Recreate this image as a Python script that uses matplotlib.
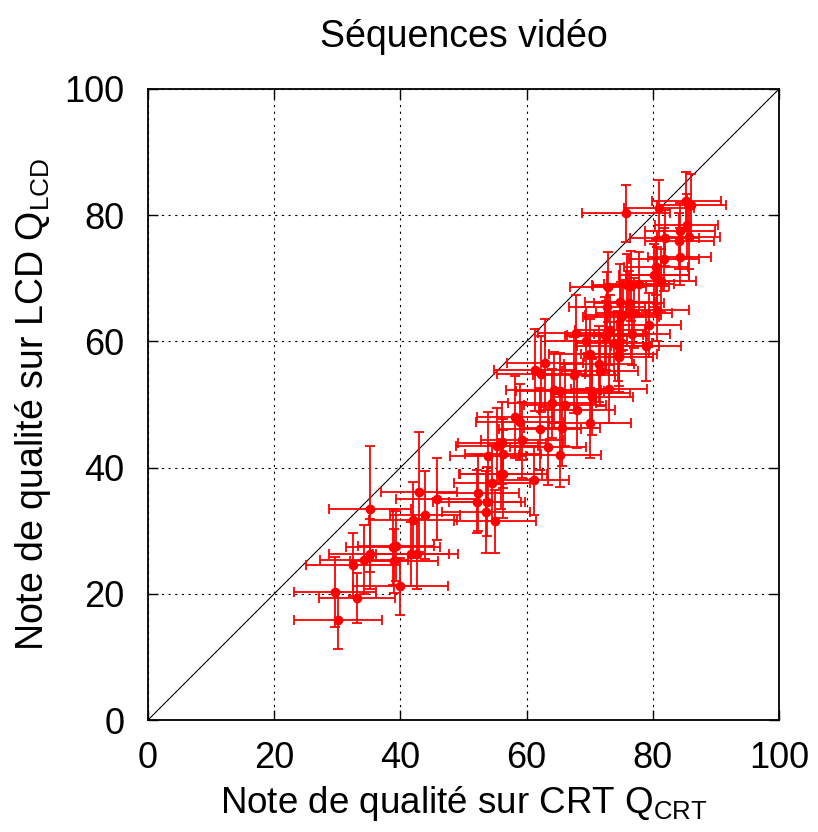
import numpy as np
import matplotlib.pyplot as plt

plt.rcParams['font.family'] = ['Liberation Sans', 'DejaVu Sans']

# Notes moyennes (CRT, LCD) par séquence
q_crt = [30.1, 29.6, 33.1, 32.5, 34.2, 35.2, 35.2, 39.0, 38.8, 39.3,
         40.0, 41.7, 42.6, 42.0, 42.9, 43.9, 45.8, 52.1, 52.3, 53.7,
         53.6, 55.0, 54.5, 55.9, 56.3, 53.9, 55.3, 56.1, 56.3, 59.3,
         61.2, 63.4, 65.3, 58.2, 59.0, 62.1, 65.6, 64.0, 66.1, 68.0,
         70.0, 64.3, 65.3, 70.4, 70.4, 73.1, 61.3, 62.3, 62.9, 67.5,
         71.6, 71.5, 70.0, 74.6, 74.6, 67.8, 69.4, 72.4, 73.2, 73.8,
         74.5, 76.7, 78.9, 79.4, 72.7, 74.8, 75.3, 76.2, 77.0, 80.7,
         75.8, 81.0, 85.3, 86.1, 85.4, 84.3, 85.7, 84.2, 81.9, 84.3,
         81.8, 80.5, 80.2, 80.7, 81.3, 72.9, 75.9, 76.5, 77.8, 75.0,
         72.6]
q_lcd = [15.8, 20.3, 19.3, 24.6, 25.4, 26.3, 33.4, 25.2, 27.4, 27.6,
         21.2, 26.3, 26.3, 31.7, 36.1, 32.5, 35.0, 34.6, 36.0, 34.6,
         33.0, 31.5, 37.6, 39.0, 39.0, 41.8, 43.4, 43.9, 42.2, 44.4,
         38.0, 43.3, 42.0, 48.0, 47.2, 46.1, 46.3, 50.2, 49.9, 49.1,
         47.1, 52.3, 52.1, 51.8, 51.2, 52.5, 55.5, 54.8, 56.6, 54.7,
         55.3, 56.4, 58.0, 58.0, 57.5, 61.3, 60.0, 61.0, 61.8, 59.7,
         59.3, 61.2, 59.3, 62.6, 65.5, 66.2, 64.2, 66.1, 64.5, 65.0,
         80.3, 81.1, 82.3, 81.6, 78.4, 77.5, 76.5, 75.9, 76.4, 73.4,
         73.0, 71.8, 70.5, 70.5, 69.6, 68.6, 68.9, 68.8, 69.1, 63.9,
         60.9]
err_crt = [7.0, 6.5, 6.0, 7.5, 7.0, 6.5, 6.5, 7.0, 7.5, 6.0,
           7.5, 6.0, 6.5, 7.0, 6.0, 5.5, 6.5, 7.0, 6.5, 6.0,
           7.0, 6.5, 6.0, 6.5, 7.0, 6.0, 6.5, 7.0, 6.0, 6.5,
           5.5, 6.0, 6.5, 6.0, 7.0, 6.5, 6.0, 7.0, 6.5, 6.0,
           6.5, 7.5, 7.0, 6.0, 6.5, 6.0, 6.5, 7.0, 6.0, 6.5,
           6.0, 5.5, 6.5, 6.0, 5.5, 6.0, 6.5, 6.0, 5.5, 6.0,
           6.5, 6.0, 5.5, 5.0, 6.0, 5.5, 6.0, 5.5, 6.0, 5.0,
           7.0, 5.5, 5.5, 5.5, 5.0, 5.5, 5.0, 5.5, 5.5, 5.0,
           5.5, 5.0, 5.5, 5.0, 5.5, 6.0, 5.5, 6.0, 5.5, 6.0,
           6.5]
err_lcd = [4.5, 5.5, 4.0, 5.0, 5.5, 5.5, 10.0, 5.0, 6.0, 5.5,
           4.5, 5.0, 5.5, 6.0, 9.5, 7.0, 6.5, 5.0, 6.0, 5.5,
           6.5, 5.0, 6.0, 5.5, 7.0, 7.0, 6.0, 6.5, 5.5, 6.0,
           5.5, 6.0, 5.0, 6.5, 6.0, 6.5, 6.0, 5.5, 6.5, 6.0,
           5.5, 6.0, 6.0, 5.5, 6.0, 5.5, 6.5, 6.0, 7.0, 6.0,
           5.5, 6.0, 5.5, 5.0, 5.5, 6.0, 5.5, 6.0, 5.5, 5.0,
           5.5, 5.0, 5.5, 5.0, 5.5, 6.0, 5.5, 5.0, 5.5, 5.0,
           4.5, 4.5, 4.5, 5.0, 5.0, 4.5, 5.0, 4.5, 4.5, 4.5,
           5.0, 4.5, 5.0, 4.5, 5.0, 5.5, 5.0, 5.5, 5.0, 5.5,
           5.5]

ticks = [0, 20, 40, 60, 80, 100]

fig = plt.figure(figsize=(8.18, 8.32), dpi=100)
ax = fig.add_axes([148 / 818, 1 - 720 / 832, 631 / 818, 631 / 832])

ax.plot([0, 100], [0, 100], color='black', linewidth=0.8, zorder=2)
ax.errorbar(q_crt, q_lcd, xerr=err_crt, yerr=err_lcd, fmt='o',
            color='#ff0000', ecolor='#ff0000', markersize=6,
            elinewidth=1.3, capsize=3.5, capthick=1.3, zorder=3)

ax.set_xlim(0, 100)
ax.set_ylim(0, 100)
ax.set_xticks(ticks)
ax.set_yticks(ticks)
ax.grid(True, color='black', linestyle=(0, (2, 4)), linewidth=0.8)
ax.tick_params(direction='in', length=7, width=1, top=True, right=True,
               labelsize=26)
ax.tick_params(axis='x', pad=15)
ax.tick_params(axis='y', pad=17)
for s in ax.spines.values():
    s.set_linewidth(1.3)

ax.set_title('Séquences vidéo', fontsize=27, pad=30)
ax.set_xlabel('Note de qualité sur CRT Q$_{\\mathregular{CRT}}$', fontsize=26.5, labelpad=6)
ax.set_ylabel('Note de qualité sur LCD Q$_{\\mathregular{LCD}}$', fontsize=27, labelpad=8)

fig.savefig('out.png', dpi=100)
